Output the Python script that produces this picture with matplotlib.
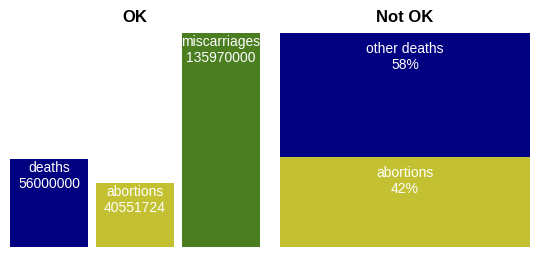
import matplotlib.pyplot as plt

plt.rcParams['font.family'] = ['Liberation Sans', 'DejaVu Sans']

# left panel: counts
ok_labels = ["deaths", "abortions", "miscarriages"]
ok_values = [56000000, 40551724, 135970000]
ok_colors = ["#000080", "#c3c131", "#4a7e20"]

# right panel: shares of deaths
notok_labels = ["abortions", "other deaths"]
notok_values = [42, 58]
notok_colors = ["#c3c131", "#000080"]

W, H = 540, 260
fig = plt.figure(figsize=(W / 100, H / 100), dpi=100)

bottom = (H - 247) / H
height = (247 - 33) / H

# OK: three separate bars
ax1 = fig.add_axes([10 / W, bottom, 250 / W, height])
xs = range(len(ok_values))
bar_w = 78 / 86
ax1.bar(xs, ok_values, width=bar_w, color=ok_colors)
ax1.set_xlim(-bar_w / 2, len(ok_values) - 1 + bar_w / 2)
ax1.set_ylim(0, max(ok_values))
for x, lab, v in zip(xs, ok_labels, ok_values):
    ax1.annotate(f"{lab}\n{v}", (x, v), xytext=(0, -1.5), textcoords="offset points",
                 ha="center", va="top", color="white", fontsize=10)
ax1.set_title("OK", fontsize=12, fontweight="bold", pad=8)
ax1.axis("off")

# Not OK: one stacked bar
ax2 = fig.add_axes([280 / W, bottom, 250 / W, height])
base = 0
for lab, v, c in zip(notok_labels, notok_values, notok_colors):
    ax2.bar(0, v, width=1, bottom=base, color=c)
    ax2.annotate(f"{lab}\n{v}%", (0, base + v), xytext=(0, -6.5), textcoords="offset points",
                 ha="center", va="top", color="white", fontsize=10)
    base += v
ax2.set_xlim(-0.5, 0.5)
ax2.set_ylim(0, sum(notok_values))
ax2.set_title("Not OK", fontsize=12, fontweight="bold", pad=8)
ax2.axis("off")

fig.savefig("out.png", dpi=100)
